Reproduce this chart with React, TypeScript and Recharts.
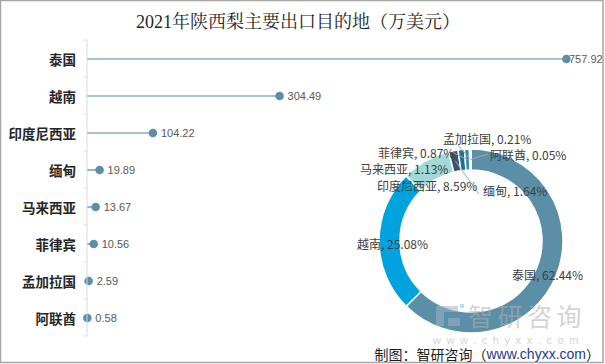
import React from 'react';
import { ComposedChart, Bar, XAxis, YAxis, LabelList, PieChart, Pie, Cell } from 'recharts';

const countries = ['泰国', '越南', '印度尼西亚', '缅甸', '马来西亚', '菲律宾', '孟加拉国', '阿联酋'];
const exportValues = [757.92, 304.49, 104.22, 19.89, 13.67, 10.56, 2.59, 0.58];
const xDomain = [0, 800];
const sliceColors = ['#5B8FA8', '#00A3DD', '#A3D8D8', '#36556A', '#1F6E99', '#2E8FB0', '#E6F3F3', '#3BA7AD'];

// pie label placement, relative to pie centre (layout only)
const pieLabelLayout = [
  { dx: 41, dy: 33 },
  { dx: -114, dy: 2 },
  { dx: -94, dy: -56 },
  { dx: 12, dy: -51, lx: 8, ly: -47 },
  { dx: -111, dy: -73 },
  { dx: -93, dy: -89, lx: -19, ly: -89 },
  { dx: -28, dy: -103, lx: -13, ly: -96 },
  { dx: 19, dy: -87, lx: 17, ly: -87 },
];

const rows = countries.map((name, i) => ({ name, value: exportValues[i] }));
const total = exportValues.reduce((a, b) => a + b, 0);

const W = 605;
const H = 364;
const M = { top: 40, right: 12, bottom: 28, left: 0 };
const AXIS_W = 87;
const band = (H - M.top - M.bottom) / countries.length;
const PCX = 471;
const PCY = 241;
const RIN = 71;
const ROUT = 92;

const CountryTick = (props: any) => {
  const { x, y, payload, index } = props;
  const axisX = x + 11;
  return (
    <g>
      {index === 0 && <line x1={axisX - 3} y1={y - band / 2} x2={axisX} y2={y - band / 2} stroke="#D9D9D9" />}
      <line x1={axisX - 3} y1={y + band / 2} x2={axisX} y2={y + band / 2} stroke="#D9D9D9" />
      <text x={x} y={y} textAnchor="end" dominantBaseline="central" fontSize={13.5} fontWeight="bold"
        fontFamily="'Noto Sans CJK SC', sans-serif" fill="#262626">{payload.value}</text>
    </g>
  );
};

const Lollipop = (props: any) => {
  const { x, y, width, height } = props;
  const cy = y + height / 2;
  return (
    <g>
      <line x1={x} y1={cy} x2={x + width} y2={cy} stroke="#4E87A3" strokeWidth={1.2} />
      <circle cx={x + width} cy={cy} r={4.3} fill="#5B8FA8" />
    </g>
  );
};

const ValueLabel = (props: any) => {
  const { x, y, width, height, value } = props;
  const tx = Math.min(x + width + 8, 569);
  return (
    <text x={tx} y={y + height / 2} dominantBaseline="central" fontSize={11}
      fontFamily="'Liberation Sans', Arial, sans-serif" fill="#595959">{value}</text>
  );
};

const PieLabel = (props: any) => {
  const { cx, cy, index, midAngle } = props;
  const lay = pieLabelLayout[index];
  const pct = ((exportValues[index] / total) * 100).toFixed(2);
  const rad = (Math.PI / 180) * midAngle;
  const rr = (RIN + ROUT) / 2;
  const px = cx + rr * Math.cos(rad);
  const py = cy - rr * Math.sin(rad);
  return (
    <g>
      {lay.lx !== undefined && (
        <line x1={px} y1={py} x2={cx + lay.lx} y2={cy + lay.ly} stroke="#A6A6A6" strokeWidth={1} />
      )}
      <text x={cx + lay.dx} y={cy + lay.dy} dominantBaseline="central" fontSize={12}
        fontFamily="'Noto Sans CJK SC', sans-serif" fill="#404040">{`${countries[index]}, ${pct}%`}</text>
    </g>
  );
};

export default function App() {
  return (
    <div style={{ position: 'absolute', left: 0, top: 0, width: W, height: H, background: '#fff' }}>
      <div style={{ position: 'absolute', left: 0, top: 0 }}>
        <ComposedChart width={W} height={H} data={rows} layout="vertical" margin={M}>
          <XAxis type="number" domain={xDomain} hide />
          <YAxis type="category" dataKey="name" width={AXIS_W} interval={0}
            axisLine={{ stroke: '#D9D9D9' }} tickLine={false} tickSize={0} tickMargin={11}
            tick={<CountryTick />} />
          <Bar dataKey="value" barSize={10} shape={<Lollipop />} isAnimationActive={false}>
            <LabelList dataKey="value" content={<ValueLabel />} />
          </Bar>
        </ComposedChart>
      </div>
      <div style={{ position: 'absolute', left: 0, top: 0 }}>
        <PieChart width={W} height={H} margin={{ top: 0, right: 0, bottom: 0, left: 0 }}>
          <Pie data={rows} dataKey="value" nameKey="name" cx={PCX} cy={PCY}
            innerRadius={RIN} outerRadius={ROUT} startAngle={90} endAngle={-270}
            stroke="#fff" strokeWidth={1.5} labelLine={false} label={<PieLabel />}
            isAnimationActive={false}>
            {rows.map((r, i) => <Cell key={r.name} fill={sliceColors[i]} />)}
          </Pie>
        </PieChart>
      </div>
      <svg width={W} height={H} style={{ position: 'absolute', left: 0, top: 0, pointerEvents: 'none' }}>
        <text x={298} y={22} textAnchor="middle" dominantBaseline="central" fontSize={18}
          fontFamily="'Liberation Serif', 'Noto Serif CJK SC', 'Noto Sans CJK SC', serif" fill="#262626">
          2021年陕西梨主要出口目的地（万美元）
        </text>
        <g opacity={0.55}>
          <rect x={436} y={306} width={8} height={20} fill="#9FB3C8" />
          <rect x={444} y={306} width={14} height={6} fill="#9FB3C8" />
          <rect x={448} y={318} width={12} height={8} fill="#9FB3C8" />
          <rect x={460} y={304} width={4} height={4} fill="#7FC4E8" />
          <text x={468} y={315} dominantBaseline="central" fontSize={25} letterSpacing={4.5}
            fontFamily="'Noto Sans CJK SC', sans-serif" fill="#B0B0B0">智研咨询</text>
          <text x={433} y={340} dominantBaseline="central" fontSize={11} letterSpacing={5.6}
            fontFamily="'Liberation Sans', Arial, sans-serif" fill="#B0B0B0">www.chyxx.com</text>
        </g>
        <text x={600} y={354} textAnchor="end" dominantBaseline="central" fontSize={14}
          fontFamily="'Noto Sans CJK SC', sans-serif" fill="#1a1a1a">
          <tspan>制图：智研咨询（</tspan>
          <tspan fill="#1F3A8C" fontFamily="'Liberation Sans', Arial, sans-serif">www.chyxx.com</tspan>
          <tspan>）</tspan>
        </text>
        <rect x={0.5} y={0.5} width={602.5} height={362} fill="none" stroke="#A6A6A6" strokeWidth={1.5} />
      </svg>
    </div>
  );
}
